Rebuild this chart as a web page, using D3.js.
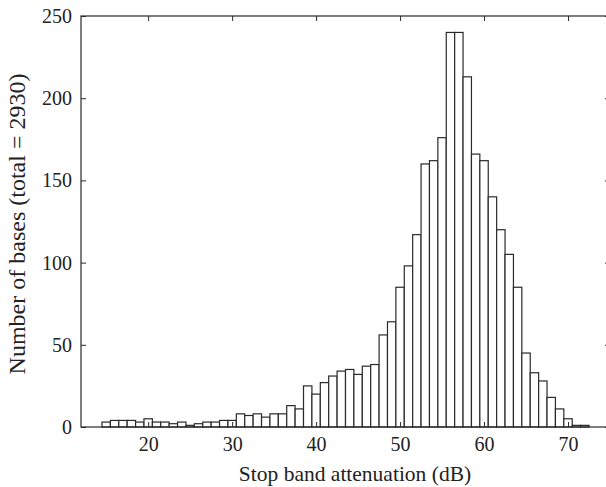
<!DOCTYPE html>
<html><head><meta charset="utf-8">
<script src="https://cdn.jsdelivr.net/npm/d3@7"></script>
<style>body{margin:0;background:#fff} svg{display:block}</style>
</head><body>
<script>
const binCenters = [15,16,17,18,19,20,21,22,23,24,25,26,27,28,29,30,31,32,33,34,35,36,37,38,39,40,41,42,43,44,45,46,47,48,49,50,51,52,53,54,55,56,57,58,59,60,61,62,63,64,65,66,67,68,69,70,71,72];
const counts = [3,4,4,4,3,5,3,3,2,3,1,2,3,3,4,4,8,7,8,6,8,8,13,11,25,20,27,31,34,35,32,37,38,56,64,85,98,117,160,162,176,240,240,213,166,162,140,120,105,85,45,33,28,18,11,5,1,1];
const xTicks = [20,30,40,50,60,70];
const yTicks = [0,50,100,150,200,250];
const xLabel = "Stop band attenuation (dB)";
const yLabel = "Number of bases (total = 2930)";

const W = 606, H = 487;
const L = 81, T = 16, R = 610, B = 427;
const font = "'Liberation Serif','Times New Roman',serif";
const ink = "#2a2a2a";

const svg = d3.select("body").append("svg").attr("width", W).attr("height", H);
const x = d3.scaleLinear().domain([12, 75]).range([L, R]);
const y = d3.scaleLinear().domain([0, 250]).range([B, T]);

// bars
svg.append("g").selectAll("rect").data(binCenters).join("rect")
  .attr("x", d => x(d - 0.5))
  .attr("width", d => x(d + 0.5) - x(d - 0.5))
  .attr("y", (d, i) => y(counts[i]))
  .attr("height", (d, i) => y(0) - y(counts[i]))
  .attr("fill", "#fff").attr("stroke", ink).attr("stroke-width", 1.2);

function styleAxis(g, showLabels) {
  g.select(".domain").remove();
  g.selectAll(".tick line").attr("stroke", ink).attr("stroke-width", 1);
  g.selectAll(".tick text").attr("fill", "#222").style("font-family", font).style("font-size", "20px");
  if (!showLabels) g.selectAll(".tick text").remove();
}

svg.append("g").attr("transform", `translate(0,${B})`)
  .call(d3.axisBottom(x).tickValues(xTicks).tickSizeInner(-5).tickSizeOuter(0).tickPadding(10))
  .call(g => styleAxis(g, true));
svg.append("g").attr("transform", `translate(0,${T})`)
  .call(d3.axisTop(x).tickValues(xTicks).tickSizeInner(-5).tickSizeOuter(0))
  .call(g => styleAxis(g, false));
svg.append("g").attr("transform", `translate(${L},0)`)
  .call(d3.axisLeft(y).tickValues(yTicks).tickSizeInner(-5).tickSizeOuter(0).tickPadding(9))
  .call(g => styleAxis(g, true));
svg.append("g").attr("transform", `translate(${R},0)`)
  .call(d3.axisRight(y).tickValues(yTicks).tickSizeInner(-5).tickSizeOuter(0))
  .call(g => styleAxis(g, false));

// frame
svg.append("rect").attr("x", L).attr("y", T).attr("width", R - L).attr("height", B - T)
  .attr("fill", "none").attr("stroke", ink).attr("stroke-width", 1.2);

svg.append("text").attr("x", 355).attr("y", 481).attr("text-anchor", "middle")
  .style("font-family", font).style("font-size", "21.5px").attr("fill", "#222").text(xLabel);
svg.append("text").attr("transform", "translate(17,224) rotate(-90)").attr("dy", "0.35em")
  .attr("text-anchor", "middle")
  .style("font-family", font).style("font-size", "24px").attr("fill", "#222").text(yLabel);
</script>
</body></html>
